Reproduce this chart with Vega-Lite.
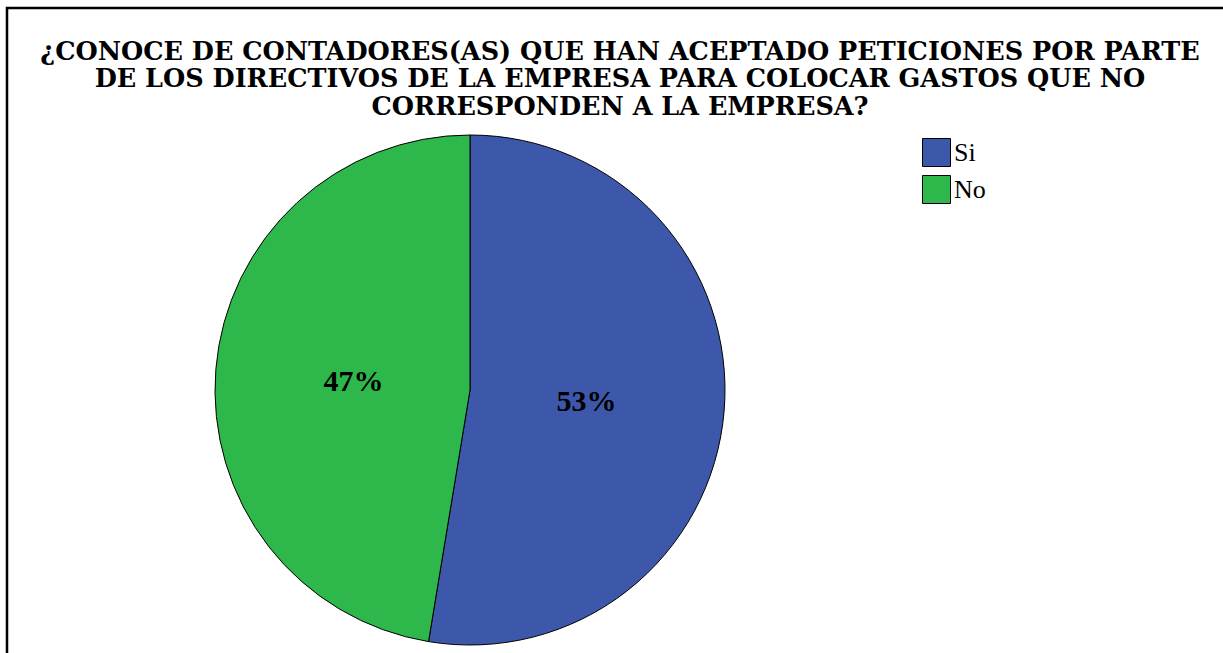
{
  "$schema": "https://vega.github.io/schema/vega-lite/v6.json",
  "autosize": "none",
  "width": 1226,
  "height": 660,
  "padding": {"left": 7, "top": 8, "right": 0, "bottom": 0},
  "background": "white",
  "view": {"stroke": "black", "strokeWidth": 2.5},
  "config": {
    "view": {"stroke": "black", "strokeWidth": 2.5},
    "font": "Liberation Serif"
  },
  "title": {
    "text": ["¿CONOCE DE CONTADORES(AS) QUE HAN ACEPTADO PETICIONES POR PARTE", "DE LOS DIRECTIVOS DE LA EMPRESA PARA COLOCAR GASTOS QUE NO", "CORRESPONDEN A LA EMPRESA?"],
    "font": "DejaVu Serif",
    "fontSize": 25.5,
    "fontWeight": "bold",
    "color": "black",
    "lineHeight": 27.5,
    "anchor": "middle",
    "frame": "group",
    "baseline": "top",
    "offset": -112
  },
  "data": {
    "values": [
      {"respuesta": "Si", "porcentaje": 52.6, "etiqueta": "53%"},
      {"respuesta": "No", "porcentaje": 47.4, "etiqueta": "47%"}
    ]
  },
  "encoding": {
    "theta": {"field": "porcentaje", "type": "quantitative", "stack": true},
    "order": {"field": "respuesta", "sort": "descending"}
  },
  "layer": [
    {
      "mark": {"type": "arc", "outerRadius": 255, "x": 463, "y": 382, "stroke": "black", "strokeWidth": 1},
      "encoding": {
        "color": {
          "field": "respuesta",
          "type": "nominal",
          "sort": ["Si", "No"],
          "scale": {"domain": ["Si", "No"], "range": ["#3D58AA", "#2EB84B"]},
          "legend": {
            "title": null,
            "orient": "none",
            "legendX": 915,
            "legendY": 130,
            "symbolType": "square",
            "symbolSize": 784,
            "symbolStrokeColor": "black",
            "symbolStrokeWidth": 1,
            "symbolOpacity": 1,
            "labelFont": "Liberation Serif",
            "labelFontSize": 26,
            "labelColor": "black",
            "labelOffset": 3,
            "rowPadding": 4
          }
        }
      }
    },
    {
      "mark": {"type": "text", "radius": 117, "x": 463, "y": 384, "font": "Liberation Serif", "fontSize": 30, "fontWeight": "bold", "color": "black"},
      "encoding": {
        "text": {"field": "etiqueta"}
      }
    }
  ]
}
